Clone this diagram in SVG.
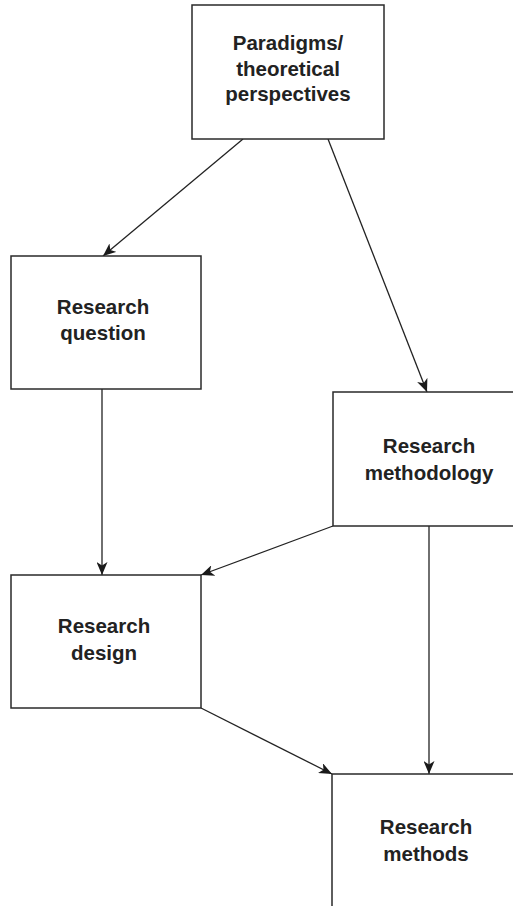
<svg xmlns="http://www.w3.org/2000/svg" width="513" height="906" viewBox="0 0 513 906">
<style>
.box{fill:#fff;stroke:#2a2a2a;stroke-width:1.5}
.lbl{font-family:"Liberation Sans",Arial,sans-serif;font-weight:bold;font-size:20.5px;fill:#222;text-anchor:middle}
.edge{stroke:#222;stroke-width:1.3;fill:none;marker-end:url(#arr)}
</style>
<defs>
<marker id="arr" viewBox="0 0 13 11" refX="13" refY="5.5" markerWidth="13" markerHeight="11" markerUnits="userSpaceOnUse" orient="auto">
<path d="M0,0 L13,5.5 L0,11 L3.5,5.5 z" fill="#1a1a1a"/>
</marker>
</defs>
<rect width="513" height="906" fill="#fff"/>
<g id="connectors">
<line class="edge" x1="243" y1="139" x2="103" y2="256"/>
<line class="edge" x1="328" y1="139" x2="427" y2="392"/>
<line class="edge" x1="102" y1="389" x2="102" y2="575"/>
<line class="edge" x1="333" y1="526" x2="201" y2="575"/>
<line class="edge" x1="429" y1="526" x2="429" y2="774"/>
<line class="edge" x1="201" y1="708" x2="332" y2="774"/>
</g>
<g id="paradigms">
<rect class="box" x="192" y="5" width="192" height="134"/>
<text class="lbl" x="288" y="50">Paradigms/</text>
<text class="lbl" x="288" y="76">theoretical</text>
<text class="lbl" x="288" y="101">perspectives</text>
</g>
<g id="question">
<rect class="box" x="11" y="256" width="190" height="133"/>
<text class="lbl" x="103" y="314">Research</text>
<text class="lbl" x="103" y="340">question</text>
</g>
<g id="methodology">
<rect class="box" x="333" y="392" width="200" height="134"/>
<text class="lbl" x="429" y="453">Research</text>
<text class="lbl" x="429" y="480">methodology</text>
</g>
<g id="design">
<rect class="box" x="11" y="575" width="190" height="133"/>
<text class="lbl" x="104" y="633">Research</text>
<text class="lbl" x="104" y="660">design</text>
</g>
<g id="methods">
<rect class="box" x="332" y="774" width="200" height="140"/>
<text class="lbl" x="426" y="834">Research</text>
<text class="lbl" x="426" y="861">methods</text>
</g>
</svg>
